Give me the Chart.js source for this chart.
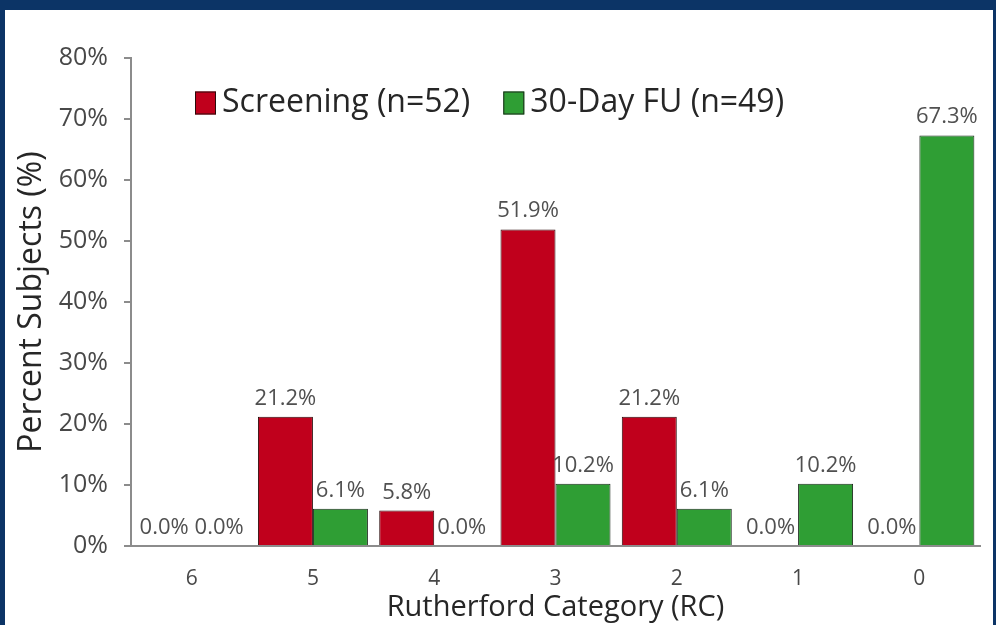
<!DOCTYPE html>
<html>
<head>
<meta charset="utf-8">
<script src="https://cdn.jsdelivr.net/npm/chart.js@4"></script>
<style>
  html, body { margin: 0; padding: 0; }
  body { width: 996px; height: 625px; background: #0c3466; overflow: hidden; position: relative; }
  #panel { position: absolute; left: 5px; top: 10px; width: 988px; height: 615px; background: #ffffff; }
  #rcChart { display: block; }
</style>
</head>
<body>
<div id="panel"><canvas id="rcChart" width="988" height="615"></canvas></div>
<script>
(function() {
    "use strict"

    // data
    const categories = ['6', '5', '4', '3', '2', '1', '0']
    const screening = [0.0, 21.2, 5.8, 51.9, 21.2, 0.0, 0.0]
    const followUp = [0.0, 6.1, 0.0, 10.2, 6.1, 10.2, 67.3]
    const yTicks = [0, 10, 20, 30, 40, 50, 60, 70, 80]

    const FONT = "'Open Sans', 'DejaVu Sans', sans-serif"
    const TEXT = '#484848'
    const AXIS = '#8c8c8c'

    // value labels above every bar, zeros included
    const barLabels = {
        id: 'barLabels',
        afterDatasetsDraw: chart => {
            const ctx = chart.ctx
            ctx.save()
            ctx.font = `22px ${FONT}`
            ctx.fillStyle = '#505050'
            ctx.textAlign = 'center'
            ctx.textBaseline = 'alphabetic'
            chart.data.datasets.forEach((ds, i) => {
                chart.getDatasetMeta(i).data.forEach((bar, j) => {
                    ctx.fillText(ds.data[j].toFixed(1) + '%', bar.x, bar.y - 12)
                })
            })
            ctx.restore()
        }
    }

    // one-row legend inside the plot (the built-in chartArea legend stacks vertically)
    const insideLegend = {
        id: 'insideLegend',
        afterDraw: chart => {
            const ctx = chart.ctx
            const area = chart.chartArea
            let x = area.left + 64
            const yMid = area.top + 45
            ctx.save()
            ctx.font = `32px ${FONT}`
            ctx.textAlign = 'left'
            ctx.textBaseline = 'middle'
            chart.data.datasets.forEach(ds => {
                ctx.fillStyle = ds.backgroundColor
                ctx.fillRect(x, yMid - 11.5, 21, 23)
                ctx.strokeStyle = ds.borderColor
                ctx.lineWidth = 1
                ctx.strokeRect(x + 0.5, yMid - 11, 20, 22)
                ctx.fillStyle = '#262626'
                ctx.fillText(ds.label, x + 27, yMid)
                x += 27 + ctx.measureText(ds.label).width + 33
            })
            ctx.restore()
        }
    }

    const ctx = document.getElementById('rcChart')
    new Chart(ctx, {
        type: 'bar',
        data: {
            labels: categories,
            datasets: [{
                label: 'Screening (n=52)',
                data: screening,
                backgroundColor: '#c0001c',
                borderColor: '#2a0a0a',
                borderWidth: c => c.raw === 0 ? 0 : 1,
                borderSkipped: 'bottom'
            }, {
                label: '30-Day FU (n=49)',
                data: followUp,
                backgroundColor: '#2f9e34',
                borderColor: '#1d2a1d',
                borderWidth: c => c.raw === 0 ? 0 : 1,
                borderSkipped: 'bottom'
            }]
        },
        options: {
            responsive: false,
            animation: false,
            layout: { padding: { top: 48, right: 13, bottom: 0, left: 0 } },
            datasets: {
                bar: { categoryPercentage: 0.907, barPercentage: 1.0 }
            },
            plugins: {
                tooltip: { enabled: false },
                legend: { display: false }
            },
            scales: {
                x: {
                    grid: { display: false, drawTicks: false },
                    border: { display: true, color: AXIS, width: 2 },
                    ticks: { font: { family: FONT, size: 21 }, color: TEXT, padding: 20 },
                    title: {
                        display: true,
                        text: 'Rutherford Category (RC)',
                        font: { family: FONT, size: 29 },
                        color: '#262626',
                        padding: { top: 0, bottom: 0 }
                    },
                    afterFit: s => { s.height = 79 }
                },
                y: {
                    min: 0,
                    max: 80,
                    afterBuildTicks: s => { s.ticks = yTicks.map(v => ({ value: v })) },
                    grid: { drawOnChartArea: false, drawTicks: true, tickLength: 7, color: AXIS, lineWidth: 2 },
                    border: { display: true, color: AXIS, width: 2 },
                    ticks: {
                        font: { family: FONT, size: 25 },
                        color: TEXT,
                        padding: 16,
                        callback: v => v + '%'
                    },
                    title: {
                        display: true,
                        text: 'Percent Subjects (%)',
                        font: { family: FONT, size: 32 },
                        color: '#262626',
                        padding: { top: 8, bottom: 0 }
                    },
                    afterFit: s => { s.width = 126 }
                }
            }
        },
        plugins: [barLabels, insideLegend]
    })
})()
</script>
</body>
</html>
